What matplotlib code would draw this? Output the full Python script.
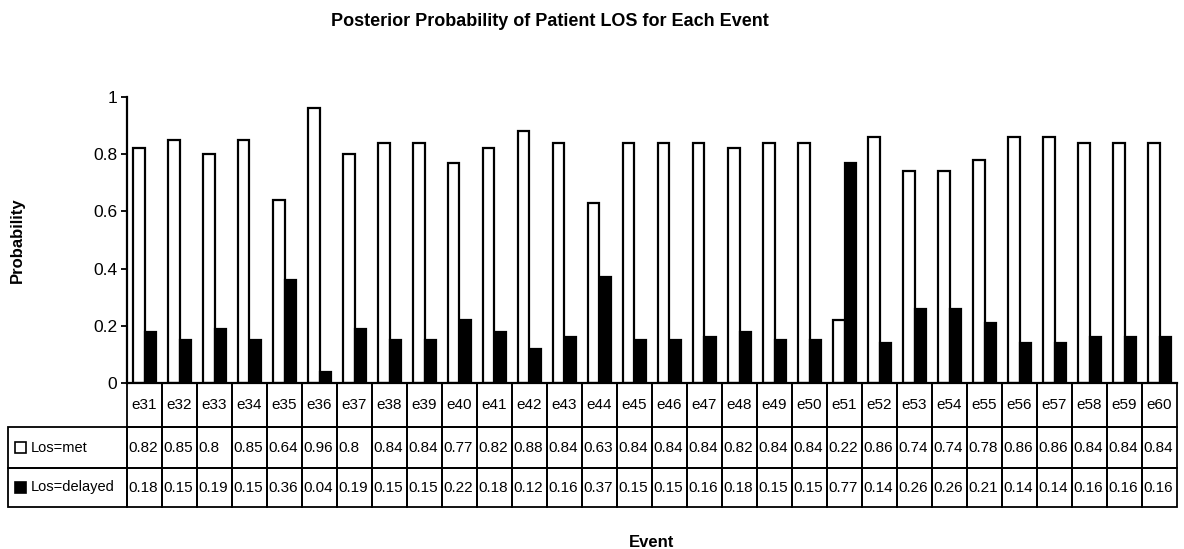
import matplotlib
matplotlib.use('Agg')
import matplotlib.pyplot as plt
import matplotlib.transforms as mtransforms
from matplotlib.patches import Rectangle
import numpy as np

# Data
events = ['e%d' % i for i in range(31, 61)]
los_met = [0.82, 0.85, 0.8, 0.85, 0.64, 0.96, 0.8, 0.84, 0.84, 0.77,
           0.82, 0.88, 0.84, 0.63, 0.84, 0.84, 0.84, 0.82, 0.84, 0.84,
           0.22, 0.86, 0.74, 0.74, 0.78, 0.86, 0.86, 0.84, 0.84, 0.84]
los_delayed = [0.18, 0.15, 0.19, 0.15, 0.36, 0.04, 0.19, 0.15, 0.15, 0.22,
               0.18, 0.12, 0.16, 0.37, 0.15, 0.15, 0.16, 0.18, 0.15, 0.15,
               0.77, 0.14, 0.26, 0.26, 0.21, 0.14, 0.14, 0.16, 0.16, 0.16]
series_labels = ['Los=met', 'Los=delayed']
y_ticks = [0, 0.2, 0.4, 0.6, 0.8, 1]
y_tick_labels = ['0', '0.2', '0.4', '0.6', '0.8', '1']

plt.rcParams['font.family'] = ['Liberation Sans', 'DejaVu Sans']

W, H = 1184, 549
fig = plt.figure(figsize=(W / 100, H / 100), dpi=100)

# Plot area in pixels
left, right, top, bottom = 127, 1177, 97, 383
ph = bottom - top
ax = fig.add_axes([left / W, 1 - bottom / H, (right - left) / W, ph / H])

x = np.arange(len(events))
bw = 0.315
ax.bar(x - bw / 2, los_met, width=bw, color='white', edgecolor='black', linewidth=1.6)
ax.bar(x + bw / 2, los_delayed, width=bw, color='black', edgecolor='black', linewidth=1.6)

ax.set_xlim(-0.5, len(events) - 0.5)
ax.set_ylim(0, 1)
ax.set_yticks(y_ticks)
ax.set_yticklabels(y_tick_labels, fontsize=12.5)
ax.tick_params(axis='y', direction='out', length=4, width=1.3, pad=3)
ax.set_xticks([])

for s in ['top', 'right']:
    ax.spines[s].set_visible(False)
for s in ['left', 'bottom']:
    ax.spines[s].set_linewidth(1.6)

ax.set_ylabel('Probability', fontsize=12, fontweight='bold')
ax.yaxis.set_label_coords(-(left - 25) / (right - left), 0.5)
ax.set_xlabel('Event', fontsize=12, fontweight='bold')
ax.xaxis.set_label_coords(0.5, -(535 - bottom) / ph)

fig.text(550 / W, 1 - 21 / H, 'Posterior Probability of Patient LOS for Each Event',
         ha='center', va='center', fontsize=13, fontweight='bold')

# Data table under the plot: x follows the data, y in axes units
trans = mtransforms.blended_transform_factory(ax.transData, ax.transAxes)
row_edges = [383, 427, 468, 507]
def ay(p):
    return (bottom - p) / ph

lw = 1.3
for j, ev in enumerate(events):
    y0, y1 = ay(row_edges[1]), ay(row_edges[0])
    ax.add_patch(Rectangle((j - 0.5, y0), 1, y1 - y0, transform=trans, fill=False,
                           edgecolor='black', linewidth=lw, clip_on=False))
    ax.text(j - 0.5 + 0.12, (y0 + y1) / 2, ev, transform=trans, ha='left', va='center',
            fontsize=11, clip_on=False)

label_x0 = (8 - left) / (right - left)
for i, (lab, vals) in enumerate(zip(series_labels, [los_met, los_delayed])):
    y0, y1 = ay(row_edges[i + 2]), ay(row_edges[i + 1])
    yc = (y0 + y1) / 2
    ax.add_patch(Rectangle((label_x0, y0), -label_x0, y1 - y0, transform=ax.transAxes,
                           fill=False, edgecolor='black', linewidth=lw, clip_on=False))
    # legend key
    kx = (15 - left) / (right - left)
    kw = 11 / (right - left)
    kh = 11 / ph
    ax.add_patch(Rectangle((kx, yc - kh / 2), kw, kh, transform=ax.transAxes,
                           facecolor='black' if i else 'white', edgecolor='black',
                           linewidth=1.2, clip_on=False))
    ax.text((31 - left) / (right - left), yc, lab, transform=ax.transAxes,
            ha='left', va='center', fontsize=10.5, clip_on=False)
    for j, v in enumerate(vals):
        ax.add_patch(Rectangle((j - 0.5, y0), 1, y1 - y0, transform=trans, fill=False,
                               edgecolor='black', linewidth=lw, clip_on=False))
        ax.text(j - 0.5 + 0.04, yc, '%g' % v, transform=trans, ha='left', va='center',
                fontsize=11, clip_on=False)

fig.savefig('out.png', dpi=100)
